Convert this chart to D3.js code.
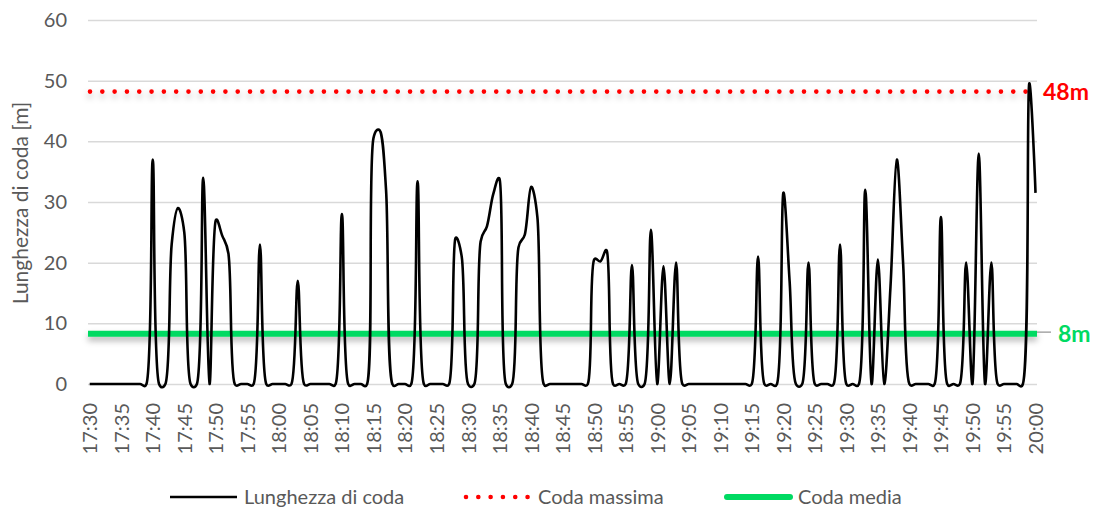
<!DOCTYPE html>
<html>
<head>
<meta charset="utf-8">
<script src="https://cdn.jsdelivr.net/npm/d3@7"></script>
<style>
  html, body { margin: 0; padding: 0; background: #fff; }
  svg { display: block; font-family: Lato, "Liberation Sans", sans-serif; }
</style>
</head>
<body>
<div id="chart"></div>
<script>
// queue length [m], one reading per minute from 17:30 to 20:00
const queueLength = [
  0, 0, 0, 0, 0, 0, 0, 0, 0, 0,
  37, 0, 0, 23, 29, 25, 0, 0, 34, 0,
  27, 24.5, 21.5, 0, 0, 0, 0, 23, 0, 0,
  0, 0, 0, 17, 0, 0, 0, 0, 0, 0,
  28, 0, 0, 0, 0, 40.5, 41.8, 32, 0, 0,
  0, 0, 33.4, 0, 0, 0, 0, 0, 24, 21,
  0, 0, 23.5, 26, 31.3, 33.8, 0, 0, 22.5, 24.6,
  32.5, 27.5, 0, 0, 0, 0, 0, 0, 0, 0,
  20.5, 20.2, 22, 0, 0, 0, 19.6, 0, 0, 25.4,
  0, 19.4, 0, 20, 0, 0, 0, 0, 0, 0,
  0, 0, 0, 0, 0, 0, 21, 0, 0, 0,
  31.5, 17, 0, 0, 20, 0, 0, 0, 0, 23,
  0, 0, 0, 32, 0, 20.5, 0, 16, 37, 20,
  0, 0, 0, 0, 0, 27.5, 0, 0, 0, 20,
  0, 38, 0, 20, 0, 0, 0, 0, 0, 49.5,
  31.5
];
const maxQueue = 48.2;
const meanQueue = 8.3;
const maxLabel = "48m";
const meanLabel = "8m";
const yTicks = [0, 10, 20, 30, 40, 50, 60];

// category labels hh:mm, one per reading
const startMinute = 17 * 60 + 30;
const categories = queueLength.map((d, i) => {
  const t = startMinute + i;
  return String(Math.floor(t / 60)).padStart(2, "0") + ":" + String(t % 60).padStart(2, "0");
});
const tickLabels = categories.filter((d, i) => i % 5 === 0);

const legendItems = [
  { name: "Lunghezza di coda", type: "line" },
  { name: "Coda massima", type: "dots" },
  { name: "Coda media", type: "mean" }
];

const width = 1105, height = 512;
const plotLeft = 88, plotRight = 1037, plotTop = 20, plotBottom = 384;
const grey = "#595959";
const red = "#FF0000";
const green = "#00DA62";

const svg = d3.select("#chart").append("svg")
  .attr("width", width)
  .attr("height", height);

// soft shadow under the reference lines (user space, lines have no height)
const defs = svg.append("defs");
const shadow = defs.append("filter")
  .attr("id", "shadow")
  .attr("filterUnits", "userSpaceOnUse")
  .attr("x", 0).attr("y", 0)
  .attr("width", width).attr("height", height);
shadow.append("feDropShadow")
  .attr("dx", 0).attr("dy", 4)
  .attr("stdDeviation", 3)
  .attr("flood-color", "#000")
  .attr("flood-opacity", 0.3);

const x = d3.scalePoint()
  .domain(categories)
  .range([89.7, 1035.5]);

const y = d3.scaleLinear()
  .domain([0, 60])
  .range([plotBottom, plotTop]);

// gridlines + y labels
const yAxis = svg.append("g")
  .attr("transform", `translate(${plotLeft},0)`)
  .call(d3.axisLeft(y).tickValues(yTicks).tickSize(-(plotRight - plotLeft)).tickPadding(21));
yAxis.select(".domain").remove();
yAxis.selectAll(".tick line").attr("stroke", "#d9d9d9").attr("stroke-width", 1.5);
yAxis.selectAll(".tick text")
  .attr("fill", grey)
  .style("font-size", "20px")
  .style("font-family", "Lato, sans-serif");

// x labels
const xAxis = svg.append("g")
  .attr("transform", `translate(0,${plotBottom})`)
  .call(d3.axisBottom(x).tickValues(tickLabels).tickSize(0));
xAxis.select(".domain").remove();
xAxis.selectAll(".tick text")
  .attr("fill", grey)
  .style("font-size", "20px")
  .style("font-family", "Lato, sans-serif")
  .attr("text-anchor", "end")
  .attr("transform", "rotate(-90)")
  .attr("x", -19)
  .attr("y", 0)
  .attr("dy", "0.35em");

// y title
svg.append("text")
  .attr("transform", "translate(28,203) rotate(-90)")
  .attr("text-anchor", "middle")
  .attr("fill", grey)
  .style("font-size", "21px")
  .text("Lunghezza di coda [m]");

// max queue (dotted red)
svg.append("line")
  .attr("x1", plotLeft + 2).attr("x2", plotRight)
  .attr("y1", y(maxQueue)).attr("y2", y(maxQueue))
  .attr("stroke", red)
  .attr("stroke-width", 4.6)
  .attr("stroke-linecap", "round")
  .attr("stroke-dasharray", "0.01 12.3")
  .attr("filter", "url(#shadow)");

// mean queue (green)
svg.append("line")
  .attr("x1", plotLeft).attr("x2", plotRight)
  .attr("y1", y(meanQueue)).attr("y2", y(meanQueue))
  .attr("stroke", green)
  .attr("stroke-width", 6)
  .attr("filter", "url(#shadow)");

// queue length line, smoothed like the spreadsheet
const line = d3.line()
  .x((d, i) => x(categories[i]))
  .y(d => y(d))
  .curve(d3.curveCatmullRom.alpha(0.35));

svg.append("path")
  .datum(queueLength)
  .attr("d", line)
  .attr("fill", "none")
  .attr("stroke", "#000")
  .attr("stroke-width", 2.6)
  .attr("stroke-linejoin", "round");

// data labels on the right
svg.append("text")
  .attr("x", 1043).attr("y", y(maxQueue))
  .attr("dy", "0.36em")
  .attr("fill", red)
  .style("font-size", "23px")
  .style("font-weight", "bold")
  .text(maxLabel);

svg.append("line")
  .attr("x1", plotRight).attr("x2", 1051)
  .attr("y1", y(meanQueue) - 1.5).attr("y2", y(meanQueue) - 1.5)
  .attr("stroke", "#a6a6a6")
  .attr("stroke-width", 1.5);

svg.append("text")
  .attr("x", 1058).attr("y", y(meanQueue))
  .attr("dy", "0.36em")
  .attr("fill", green)
  .style("font-size", "23px")
  .style("font-weight", "bold")
  .text(meanLabel);

// legend
const legendY = 497;
const legendX = [170, 464, 724];
const legend = svg.append("g");
legendItems.forEach((item, i) => {
  const g = legend.append("g").attr("transform", `translate(${legendX[i]},${legendY})`);
  if (item.type === "line") {
    g.append("line").attr("x1", 0).attr("x2", 67)
      .attr("stroke", "#000").attr("stroke-width", 2.6);
  } else if (item.type === "dots") {
    g.append("line").attr("x1", 2).attr("x2", 67)
      .attr("stroke", red).attr("stroke-width", 4.6)
      .attr("stroke-linecap", "round")
      .attr("stroke-dasharray", "0.01 12.3");
  } else {
    g.append("line").attr("x1", 3).attr("x2", 66)
      .attr("stroke", green).attr("stroke-width", 6)
      .attr("stroke-linecap", "round");
  }
  g.append("text")
    .attr("x", 74).attr("y", 0)
    .attr("dy", "0.35em")
    .attr("fill", grey)
    .style("font-size", "20px")
    .text(item.name);
});
</script>
</body>
</html>
